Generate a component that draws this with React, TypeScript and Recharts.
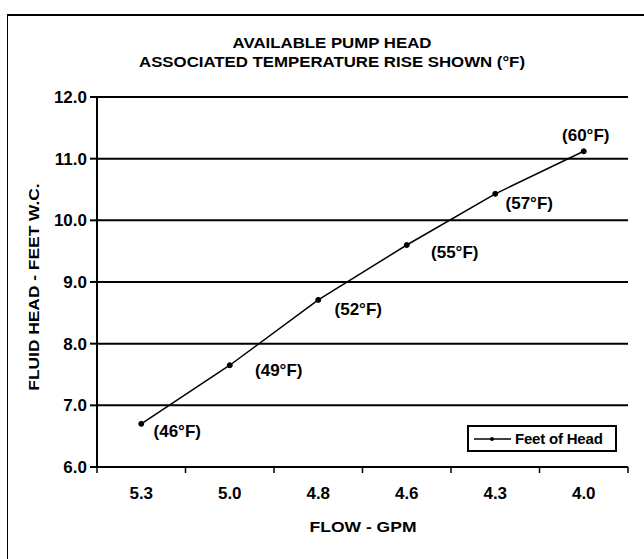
import React from 'react';
import { LineChart, Line, XAxis, YAxis, CartesianGrid, LabelList, Legend } from 'recharts';

const flowGpm = ['5.3', '5.0', '4.8', '4.6', '4.3', '4.0'];
const feetOfHead = [6.7, 7.65, 8.71, 9.6, 10.43, 11.12];
const tempRise = ['(46°F)', '(49°F)', '(52°F)', '(55°F)', '(57°F)', '(60°F)'];
const yTicks = [6, 7, 8, 9, 10, 11, 12];

const chartData = flowGpm.map((flow, i) => ({ flow, head: feetOfHead[i], rise: tempRise[i] }));

const W = 644;
const H = 559;
const MARGIN = { top: 97, right: 16, bottom: 30, left: 37 };
const Y_AXIS_W = 60;
const BAND = (W - MARGIN.left - Y_AXIS_W - MARGIN.right) / flowGpm.length;
const FONT = "'Liberation Sans', Arial, sans-serif";

// label offsets relative to each point, as on the original sheet
const labelOffsets = [
    { dx: 36, dy: 8 },
    { dx: 49, dy: 5 },
    { dx: 40, dy: 10 },
    { dx: 48, dy: 7 },
    { dx: 34, dy: 10 },
    { dx: 2, dy: -16 },
];

const FlowTick = (props: any) => {
    const { x, y, payload, index } = props;
    const left = x - BAND / 2;
    return (
        <g>
            <line x1={left} y1={y} x2={left} y2={y + 6} stroke="#000" strokeWidth={1.5} />
            {index === flowGpm.length - 1 && (
                <line x1={x + BAND / 2} y1={y} x2={x + BAND / 2} y2={y + 6} stroke="#000" strokeWidth={1.5} />
            )}
            <text x={x} y={y + 32} textAnchor="middle" fontFamily={FONT} fontWeight="bold" fontSize={17} fill="#000">
                {payload.value}
            </text>
        </g>
    );
};

const RiseLabel = (props: any) => {
    const { x, y, index, value } = props;
    const off = labelOffsets[index] || { dx: 30, dy: 8 };
    return (
        <text
            x={x + off.dx}
            y={y + off.dy}
            textAnchor="middle"
            dominantBaseline="central"
            fontFamily={FONT}
            fontWeight="bold"
            fontSize={17}
            fill="#000">
            {value}
        </text>
    );
};

const LegendBox = () => (
    <div
        style={{
            border: '2px solid #000',
            boxSizing: 'border-box',
            width: 150,
            height: 27,
            display: 'flex',
            alignItems: 'center',
            paddingLeft: 5,
            fontFamily: FONT,
            fontWeight: 'bold',
            fontSize: 15,
            letterSpacing: -0.2,
            whiteSpace: 'nowrap',
            background: '#fff',
        }}>
        <svg width={37} height={10} style={{ marginRight: 4, flexShrink: 0 }}>
            <line x1={0} y1={5} x2={37} y2={5} stroke="#000" strokeWidth={1.5} />
            <circle cx={18} cy={5} r={2} fill="#000" />
        </svg>
        Feet of Head
    </div>
);

const wideText: React.CSSProperties = {
    position: 'absolute',
    whiteSpace: 'nowrap',
    fontFamily: FONT,
    fontWeight: 'bold',
    fontSize: 14,
};

const App = () => {
    return (
        <div style={{ position: 'absolute', left: 0, top: 0, width: W, height: H, background: '#fff', overflow: 'hidden' }}>
            {/* scanned sheet frame */}
            <div style={{ position: 'absolute', left: 7, top: 14, width: W, height: H, borderTop: '2px solid #000', borderLeft: '1.5px solid #000' }} />
            <div style={{ ...wideText, left: 332, top: 43, transform: 'translate(-50%, -50%) scaleX(1.2)' }}>
                AVAILABLE PUMP HEAD
            </div>
            <div style={{ ...wideText, left: 332, top: 62, transform: 'translate(-50%, -50%) scaleX(1.2)' }}>
                ASSOCIATED TEMPERATURE RISE SHOWN (°F)
            </div>
            <div style={{ ...wideText, left: 34, top: 287, transform: 'translate(-50%, -50%) rotate(-90deg) scaleX(1.24)' }}>
                FLUID HEAD - FEET W.C.
            </div>
            <div style={{ ...wideText, left: 363, top: 527, transform: 'translate(-50%, -50%) scaleX(1.25)' }}>
                FLOW - GPM
            </div>
            <LineChart width={W} height={H} data={chartData} margin={MARGIN}>
                <CartesianGrid vertical={false} stroke="#000" strokeWidth={2} />
                <XAxis
                    dataKey="flow"
                    height={H - MARGIN.bottom - 467}
                    padding={{ left: BAND / 2, right: BAND / 2 }}
                    stroke="#000"
                    strokeWidth={2}
                    tickLine={false}
                    tickSize={0}
                    tickMargin={0}
                    interval={0}
                    tick={<FlowTick />}
                />
                <YAxis
                    domain={[6, 12]}
                    ticks={yTicks}
                    width={Y_AXIS_W}
                    stroke="#000"
                    strokeWidth={2}
                    tickSize={7}
                    tickMargin={3}
                    tickFormatter={(v: number) => v.toFixed(1)}
                    tick={{ fill: '#000', fontFamily: FONT, fontWeight: 'bold', fontSize: 17 }}
                />
                <YAxis yAxisId="frame" orientation="right" width={0} tick={false} tickLine={false} stroke="#000" strokeWidth={2} />
                <Legend
                    layout="horizontal"
                    verticalAlign="middle"
                    align="center"
                    content={<LegendBox />}
                    wrapperStyle={{ position: 'absolute', left: 467, top: 425, width: 150, height: 27 }}
                />
                <Line
                    type="linear"
                    dataKey="head"
                    name="Feet of Head"
                    stroke="#000"
                    strokeWidth={1.5}
                    dot={{ r: 2.5, fill: '#000', stroke: '#000', strokeWidth: 1 }}
                    activeDot={false}
                    isAnimationActive={false}>
                    <LabelList dataKey="rise" content={<RiseLabel />} />
                </Line>
            </LineChart>
        </div>
    );
};

export default App;
